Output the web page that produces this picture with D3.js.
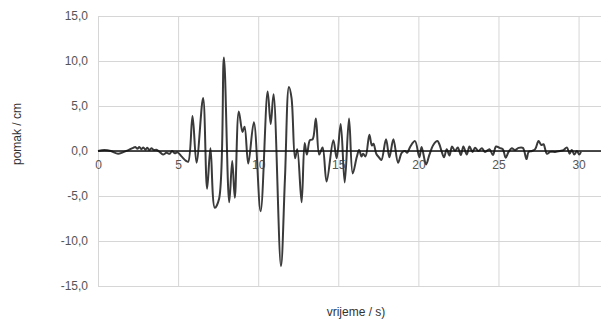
<!DOCTYPE html>
<html><head><meta charset="utf-8">
<script src="https://cdn.jsdelivr.net/npm/d3@7"></script>
<style>
html,body{margin:0;padding:0;background:#fff;}
svg{display:block;font-family:"Liberation Sans",Arial,sans-serif;}
</style></head>
<body><svg id="chart" width="603" height="320"></svg>
<script>
const times = [0,0.4,0.8,1.25,1.55,1.9,2.2,2.33,2.46,2.58,2.71,2.83,2.96,3.08,3.21,3.33,3.5,3.64,3.85,4.06,4.27,4.48,4.62,4.79,4.96,5.21,5.5,5.63,5.9,6.15,6.56,6.81,7.02,7.29,7.56,7.86,8.19,8.38,8.54,8.79,9.02,9.15,9.38,9.73,10.15,10.59,10.78,10.96,11.42,11.67,11.92,12.08,12.3,12.44,12.71,12.9,13.04,13.23,13.4,13.6,13.81,14.02,14.27,14.69,14.9,15.15,15.4,15.67,15.9,16.15,16.3,16.45,16.55,16.7,16.94,17.1,17.2,17.37,17.54,17.69,17.98,18.19,18.44,18.73,18.96,19.17,19.3,19.5,19.79,20.06,20.2,20.48,20.69,20.94,21.19,21.31,21.46,21.6,21.77,21.94,22.1,22.29,22.46,22.65,22.81,23.02,23.19,23.38,23.54,23.75,23.96,24.16,24.44,24.65,24.85,25.06,25.27,25.45,25.63,25.83,26.04,26.25,26.52,26.75,26.88,27.08,27.29,27.5,27.67,27.81,28.02,28.23,28.54,28.85,29.06,29.27,29.44,29.58,29.73,29.9,30.04,30.15];
const displacement = [0,0.1,0,-0.3,-0.15,0.1,0.35,0.45,0.25,0.45,0.2,0.4,0.15,0.35,0.1,0.3,0.1,0.15,-0.1,-0.4,-0.2,-0.3,0,-0.25,-0.15,-0.6,-1.1,-1.2,3.9,-1.3,5.9,-4.2,0.3,-6.3,-5.3,10.4,-5.7,-1.1,-5.2,4.4,2.1,2.7,-1.4,3.2,-6.7,6.6,3.0,6.3,-12.8,-3.1,7.1,5.9,-0.8,0.2,-5.7,0.9,-0.4,1.2,1.3,3.6,-0.4,0.4,-3.4,1.2,-0.8,3.0,-3.5,3.6,-2.5,-0.7,0.1,-0.6,-0.3,-0.6,1.8,0.6,0.8,-0.3,-0.7,-1.0,1.3,-0.7,1.3,-1.3,-0.2,0,-0.2,0.5,1.1,-0.7,0.45,-1.5,-0.4,0.7,1.1,0.75,-0.1,-0.7,0.2,-0.5,0.5,0,0.4,-0.45,0.5,-0.4,0.5,-0.1,0.35,0,0.3,-0.1,0.2,-0.45,0.5,0.35,0.2,-0.75,-0.1,0.3,0.1,0.35,0.35,-0.9,-0.1,0,0.2,1.1,0.67,0.75,-0.3,-0.1,-0.1,0,0.1,0.4,-0.3,0.1,-0.4,0,-0.4,-0.1];
const xTicks = [0,5,10,15,20,25,30];
const yTicks = [-15,-10,-5,0,5,10,15];
const xTitle = "vrijeme / s)";
const yTitle = "pomak / cm";

const data = times.map((t,i)=>({t, v: displacement[i]}));
const svg = d3.select("#chart");
const m = {left:98, right:2, top:16, bottom:34};
const W = 603 - m.left - m.right, H = 320 - m.top - m.bottom;
const g = svg.append("g").attr("transform",`translate(${m.left},${m.top})`);
const x = d3.scaleLinear().domain([0,31.4]).range([0,W]);
const y = d3.scaleLinear().domain([-15,15]).range([H,0]);
const fmt = v => v.toFixed(1).replace(".", ",");

// horizontal grid + y labels
const ya = g.append("g").call(d3.axisLeft(y).tickValues(yTicks).tickSize(-W).tickPadding(10).tickFormat(fmt));
ya.select(".domain").remove();
ya.selectAll(".tick line").attr("stroke","#d6d6d6").attr("stroke-width",1);
ya.selectAll(".tick text").attr("fill","#555").attr("font-size","12px").attr("font-family","Liberation Sans, Arial, sans-serif");

// vertical grid
const xg = g.append("g").attr("transform",`translate(0,${H})`)
  .call(d3.axisBottom(x).tickValues(xTicks).tickSize(-H).tickFormat(""));
xg.select(".domain").remove();
xg.selectAll(".tick line").attr("stroke","#d6d6d6").attr("stroke-width",1);

// x labels near zero line
const xl = g.append("g").attr("transform",`translate(0,${y(0)})`)
  .call(d3.axisBottom(x).tickValues(xTicks).tickSize(0).tickPadding(9).tickFormat(d=>d));
xl.select(".domain").remove();
xl.selectAll(".tick text").attr("fill","#555").attr("font-size","12px").attr("font-family","Liberation Sans, Arial, sans-serif");

// series
const line = d3.line().x(d=>x(d.t)).y(d=>y(d.v)).curve(d3.curveCatmullRom.alpha(0.5));
g.append("path").datum(data).attr("d",line).attr("fill","none")
  .attr("stroke","#3a3a3a").attr("stroke-width",2).attr("stroke-linejoin","round");

// zero line
g.append("line").attr("x1",0).attr("x2",W).attr("y1",y(0)).attr("y2",y(0))
  .attr("stroke","#111").attr("stroke-width",1.6);

// titles
svg.append("text").attr("x",356).attr("y",316).attr("text-anchor","middle")
  .attr("font-size","12px").attr("fill","#333").text(xTitle);
svg.append("text").attr("transform","translate(21,134) rotate(-90)").attr("text-anchor","middle")
  .attr("font-size","12px").attr("fill","#333").text(yTitle);
</script></body></html>
